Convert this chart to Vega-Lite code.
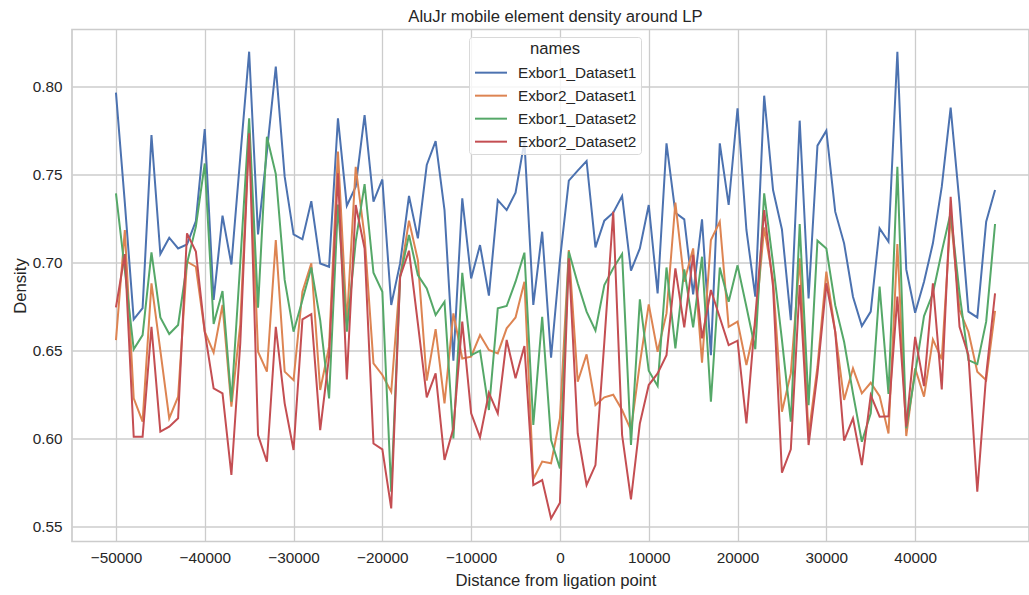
{
 "$schema": "https://vega.github.io/schema/vega-lite/v6.json",
 "width": 957,
 "height": 512,
 "autosize": {"type": "none"},
 "padding": {"left": 72, "top": 29.5, "right": 0, "bottom": 53.5},
 "background": "white",
 "config": {
  "font": "Liberation Sans",
  "view": {"stroke": "#cccccc", "strokeWidth": 1.7},
  "axis": {
   "domain": false, "ticks": false, "tickSize": 0,
   "grid": true, "gridColor": "#cccccc", "gridWidth": 1.3,
   "labelFont": "Liberation Sans", "labelFontSize": 15.3, "labelColor": "#262626",
   "titleFont": "Liberation Sans", "titleFontSize": 16.67, "titleFontWeight": "normal", "titleColor": "#262626"
  }
 },
 "title": {"text": "AluJr mobile element density around LP", "font": "Liberation Sans", "fontSize": 16.67, "fontWeight": "normal", "color": "#262626", "anchor": "middle", "dx": 5, "dy": 17, "offset": 7.5, "baseline": "alphabetic"},
 "data": {"values": [
  {"d": -50000, "Exbor1_Dataset1": 0.7966, "Exbor2_Dataset1": 0.656, "Exbor1_Dataset2": 0.7394, "Exbor2_Dataset2": 0.6746},
  {"d": -49000, "Exbor1_Dataset1": 0.734, "Exbor2_Dataset1": 0.7186, "Exbor1_Dataset2": 0.6958, "Exbor2_Dataset2": 0.7049},
  {"d": -48000, "Exbor1_Dataset1": 0.6678, "Exbor2_Dataset1": 0.6229, "Exbor1_Dataset2": 0.6508, "Exbor2_Dataset2": 0.6011},
  {"d": -47000, "Exbor1_Dataset1": 0.6742, "Exbor2_Dataset1": 0.6097, "Exbor1_Dataset2": 0.6589, "Exbor2_Dataset2": 0.6011},
  {"d": -46000, "Exbor1_Dataset1": 0.7725, "Exbor2_Dataset1": 0.6883, "Exbor1_Dataset2": 0.7059, "Exbor2_Dataset2": 0.6636},
  {"d": -45000, "Exbor1_Dataset1": 0.7049, "Exbor2_Dataset1": 0.65, "Exbor1_Dataset2": 0.6689, "Exbor2_Dataset2": 0.604},
  {"d": -44000, "Exbor1_Dataset1": 0.7142, "Exbor2_Dataset1": 0.6116, "Exbor1_Dataset2": 0.6595, "Exbor2_Dataset2": 0.6068},
  {"d": -43000, "Exbor1_Dataset1": 0.7081, "Exbor2_Dataset1": 0.6239, "Exbor1_Dataset2": 0.6646, "Exbor2_Dataset2": 0.6116},
  {"d": -42000, "Exbor1_Dataset1": 0.7104, "Exbor2_Dataset1": 0.7006, "Exbor1_Dataset2": 0.6996, "Exbor2_Dataset2": 0.7167},
  {"d": -41000, "Exbor1_Dataset1": 0.7237, "Exbor2_Dataset1": 0.6977, "Exbor1_Dataset2": 0.7205, "Exbor2_Dataset2": 0.7063},
  {"d": -40000, "Exbor1_Dataset1": 0.7759, "Exbor2_Dataset1": 0.6608, "Exbor1_Dataset2": 0.7564, "Exbor2_Dataset2": 0.6608},
  {"d": -39000, "Exbor1_Dataset1": 0.6788, "Exbor2_Dataset1": 0.6489, "Exbor1_Dataset2": 0.6652, "Exbor2_Dataset2": 0.6286},
  {"d": -38000, "Exbor1_Dataset1": 0.7267, "Exbor2_Dataset1": 0.676, "Exbor1_Dataset2": 0.6839, "Exbor2_Dataset2": 0.6258},
  {"d": -37000, "Exbor1_Dataset1": 0.699, "Exbor2_Dataset1": 0.6182, "Exbor1_Dataset2": 0.621, "Exbor2_Dataset2": 0.5794},
  {"d": -36000, "Exbor1_Dataset1": 0.76, "Exbor2_Dataset1": 0.665, "Exbor1_Dataset2": 0.70, "Exbor2_Dataset2": 0.6542},
  {"d": -35000, "Exbor1_Dataset1": 0.8199, "Exbor2_Dataset1": 0.7754, "Exbor1_Dataset2": 0.782, "Exbor2_Dataset2": 0.7735},
  {"d": -34000, "Exbor1_Dataset1": 0.7161, "Exbor2_Dataset1": 0.6494, "Exbor1_Dataset2": 0.6744, "Exbor2_Dataset2": 0.6021},
  {"d": -33000, "Exbor1_Dataset1": 0.763, "Exbor2_Dataset1": 0.6381, "Exbor1_Dataset2": 0.7716, "Exbor2_Dataset2": 0.5869},
  {"d": -32000, "Exbor1_Dataset1": 0.8114, "Exbor2_Dataset1": 0.7129, "Exbor1_Dataset2": 0.7504, "Exbor2_Dataset2": 0.6636},
  {"d": -31000, "Exbor1_Dataset1": 0.7489, "Exbor2_Dataset1": 0.6381, "Exbor1_Dataset2": 0.6902, "Exbor2_Dataset2": 0.6201},
  {"d": -30000, "Exbor1_Dataset1": 0.7161, "Exbor2_Dataset1": 0.6333, "Exbor1_Dataset2": 0.6608, "Exbor2_Dataset2": 0.5936},
  {"d": -29000, "Exbor1_Dataset1": 0.7133, "Exbor2_Dataset1": 0.6835, "Exbor1_Dataset2": 0.6788, "Exbor2_Dataset2": 0.6678},
  {"d": -28000, "Exbor1_Dataset1": 0.735, "Exbor2_Dataset1": 0.6996, "Exbor1_Dataset2": 0.6973, "Exbor2_Dataset2": 0.6708},
  {"d": -27000, "Exbor1_Dataset1": 0.6996, "Exbor2_Dataset1": 0.6277, "Exbor1_Dataset2": 0.6674, "Exbor2_Dataset2": 0.6049},
  {"d": -26000, "Exbor1_Dataset1": 0.6977, "Exbor2_Dataset1": 0.6523, "Exbor1_Dataset2": 0.6229, "Exbor2_Dataset2": 0.6466},
  {"d": -25000, "Exbor1_Dataset1": 0.782, "Exbor2_Dataset1": 0.7631, "Exbor1_Dataset2": 0.733, "Exbor2_Dataset2": 0.7508},
  {"d": -24000, "Exbor1_Dataset1": 0.7324, "Exbor2_Dataset1": 0.6655, "Exbor1_Dataset2": 0.6608, "Exbor2_Dataset2": 0.6337},
  {"d": -23000, "Exbor1_Dataset1": 0.7432, "Exbor2_Dataset1": 0.7545, "Exbor1_Dataset2": 0.712, "Exbor2_Dataset2": 0.7328},
  {"d": -22000, "Exbor1_Dataset1": 0.7839, "Exbor2_Dataset1": 0.7148, "Exbor1_Dataset2": 0.7447, "Exbor2_Dataset2": 0.7081},
  {"d": -21000, "Exbor1_Dataset1": 0.7347, "Exbor2_Dataset1": 0.6428, "Exbor1_Dataset2": 0.6943, "Exbor2_Dataset2": 0.5973},
  {"d": -20000, "Exbor1_Dataset1": 0.7473, "Exbor2_Dataset1": 0.6362, "Exbor1_Dataset2": 0.6835, "Exbor2_Dataset2": 0.5939},
  {"d": -19000, "Exbor1_Dataset1": 0.676, "Exbor2_Dataset1": 0.6267, "Exbor1_Dataset2": 0.5699, "Exbor2_Dataset2": 0.5604},
  {"d": -18000, "Exbor1_Dataset1": 0.6996, "Exbor2_Dataset1": 0.692, "Exbor1_Dataset2": 0.692, "Exbor2_Dataset2": 0.692},
  {"d": -17000, "Exbor1_Dataset1": 0.7379, "Exbor2_Dataset1": 0.7239, "Exbor1_Dataset2": 0.7157, "Exbor2_Dataset2": 0.7068},
  {"d": -16000, "Exbor1_Dataset1": 0.7138, "Exbor2_Dataset1": 0.7015, "Exbor1_Dataset2": 0.693, "Exbor2_Dataset2": 0.6655},
  {"d": -15000, "Exbor1_Dataset1": 0.7555, "Exbor2_Dataset1": 0.633, "Exbor1_Dataset2": 0.6854, "Exbor2_Dataset2": 0.6235},
  {"d": -14000, "Exbor1_Dataset1": 0.7691, "Exbor2_Dataset1": 0.6623, "Exbor1_Dataset2": 0.6703, "Exbor2_Dataset2": 0.6371},
  {"d": -13000, "Exbor1_Dataset1": 0.7299, "Exbor2_Dataset1": 0.6201, "Exbor1_Dataset2": 0.6778, "Exbor2_Dataset2": 0.5879},
  {"d": -12000, "Exbor1_Dataset1": 0.6443, "Exbor2_Dataset1": 0.6712, "Exbor1_Dataset2": 0.6002, "Exbor2_Dataset2": 0.6059},
  {"d": -11000, "Exbor1_Dataset1": 0.7366, "Exbor2_Dataset1": 0.6456, "Exbor1_Dataset2": 0.6943, "Exbor2_Dataset2": 0.6665},
  {"d": -10000, "Exbor1_Dataset1": 0.6911, "Exbor2_Dataset1": 0.6466, "Exbor1_Dataset2": 0.6475, "Exbor2_Dataset2": 0.6144},
  {"d": -9000, "Exbor1_Dataset1": 0.71, "Exbor2_Dataset1": 0.6589, "Exbor1_Dataset2": 0.65, "Exbor2_Dataset2": 0.6008},
  {"d": -8000, "Exbor1_Dataset1": 0.6813, "Exbor2_Dataset1": 0.6504, "Exbor1_Dataset2": 0.6163, "Exbor2_Dataset2": 0.6261},
  {"d": -7000, "Exbor1_Dataset1": 0.7356, "Exbor2_Dataset1": 0.6485, "Exbor1_Dataset2": 0.6741, "Exbor2_Dataset2": 0.6144},
  {"d": -6000, "Exbor1_Dataset1": 0.7299, "Exbor2_Dataset1": 0.6627, "Exbor1_Dataset2": 0.6754, "Exbor2_Dataset2": 0.6561},
  {"d": -5000, "Exbor1_Dataset1": 0.7398, "Exbor2_Dataset1": 0.6689, "Exbor1_Dataset2": 0.6892, "Exbor2_Dataset2": 0.6343},
  {"d": -4000, "Exbor1_Dataset1": 0.7688, "Exbor2_Dataset1": 0.6892, "Exbor1_Dataset2": 0.7057, "Exbor2_Dataset2": 0.6527},
  {"d": -3000, "Exbor1_Dataset1": 0.676, "Exbor2_Dataset1": 0.577, "Exbor1_Dataset2": 0.6078, "Exbor2_Dataset2": 0.5737},
  {"d": -2000, "Exbor1_Dataset1": 0.7176, "Exbor2_Dataset1": 0.587, "Exbor1_Dataset2": 0.6693, "Exbor2_Dataset2": 0.5765},
  {"d": -1000, "Exbor1_Dataset1": 0.646, "Exbor2_Dataset1": 0.586, "Exbor1_Dataset2": 0.5992, "Exbor2_Dataset2": 0.5547},
  {"d": 0, "Exbor1_Dataset1": 0.7015, "Exbor2_Dataset1": 0.6116, "Exbor1_Dataset2": 0.5831, "Exbor2_Dataset2": 0.5636},
  {"d": 1000, "Exbor1_Dataset1": 0.7466, "Exbor2_Dataset1": 0.7072, "Exbor1_Dataset2": 0.7063, "Exbor2_Dataset2": 0.7025},
  {"d": 2000, "Exbor1_Dataset1": 0.7523, "Exbor2_Dataset1": 0.6324, "Exbor1_Dataset2": 0.6883, "Exbor2_Dataset2": 0.603},
  {"d": 3000, "Exbor1_Dataset1": 0.7578, "Exbor2_Dataset1": 0.6479, "Exbor1_Dataset2": 0.6722, "Exbor2_Dataset2": 0.5737},
  {"d": 4000, "Exbor1_Dataset1": 0.7087, "Exbor2_Dataset1": 0.6191, "Exbor1_Dataset2": 0.6614, "Exbor2_Dataset2": 0.585},
  {"d": 5000, "Exbor1_Dataset1": 0.7239, "Exbor2_Dataset1": 0.6235, "Exbor1_Dataset2": 0.6873, "Exbor2_Dataset2": 0.655},
  {"d": 6000, "Exbor1_Dataset1": 0.7284, "Exbor2_Dataset1": 0.625, "Exbor1_Dataset2": 0.6968, "Exbor2_Dataset2": 0.729},
  {"d": 7000, "Exbor1_Dataset1": 0.7379, "Exbor2_Dataset1": 0.6163, "Exbor1_Dataset2": 0.7049, "Exbor2_Dataset2": 0.6021},
  {"d": 8000, "Exbor1_Dataset1": 0.6955, "Exbor2_Dataset1": 0.6049, "Exbor1_Dataset2": 0.5964, "Exbor2_Dataset2": 0.5655},
  {"d": 9000, "Exbor1_Dataset1": 0.7081, "Exbor2_Dataset1": 0.6428, "Exbor1_Dataset2": 0.6792, "Exbor2_Dataset2": 0.6087},
  {"d": 10000, "Exbor1_Dataset1": 0.7328, "Exbor2_Dataset1": 0.6763, "Exbor1_Dataset2": 0.6386, "Exbor2_Dataset2": 0.6305},
  {"d": 11000, "Exbor1_Dataset1": 0.6826, "Exbor2_Dataset1": 0.6494, "Exbor1_Dataset2": 0.630, "Exbor2_Dataset2": 0.6371},
  {"d": 12000, "Exbor1_Dataset1": 0.7678, "Exbor2_Dataset1": 0.6712, "Exbor1_Dataset2": 0.6973, "Exbor2_Dataset2": 0.6475},
  {"d": 13000, "Exbor1_Dataset1": 0.7284, "Exbor2_Dataset1": 0.7341, "Exbor1_Dataset2": 0.6513, "Exbor2_Dataset2": 0.6968},
  {"d": 14000, "Exbor1_Dataset1": 0.7246, "Exbor2_Dataset1": 0.6892, "Exbor1_Dataset2": 0.6962, "Exbor2_Dataset2": 0.6633},
  {"d": 15000, "Exbor1_Dataset1": 0.682, "Exbor2_Dataset1": 0.7081, "Exbor1_Dataset2": 0.6633, "Exbor2_Dataset2": 0.7044},
  {"d": 16000, "Exbor1_Dataset1": 0.7246, "Exbor2_Dataset1": 0.6432, "Exbor1_Dataset2": 0.7034, "Exbor2_Dataset2": 0.657},
  {"d": 17000, "Exbor1_Dataset1": 0.6475, "Exbor2_Dataset1": 0.7129, "Exbor1_Dataset2": 0.621, "Exbor2_Dataset2": 0.6845},
  {"d": 18000, "Exbor1_Dataset1": 0.7678, "Exbor2_Dataset1": 0.7233, "Exbor1_Dataset2": 0.6973, "Exbor2_Dataset2": 0.6689},
  {"d": 19000, "Exbor1_Dataset1": 0.7328, "Exbor2_Dataset1": 0.6636, "Exbor1_Dataset2": 0.6778, "Exbor2_Dataset2": 0.6532},
  {"d": 20000, "Exbor1_Dataset1": 0.7877, "Exbor2_Dataset1": 0.6665, "Exbor1_Dataset2": 0.6985, "Exbor2_Dataset2": 0.6557},
  {"d": 21000, "Exbor1_Dataset1": 0.7186, "Exbor2_Dataset1": 0.6419, "Exbor1_Dataset2": 0.675, "Exbor2_Dataset2": 0.6087},
  {"d": 22000, "Exbor1_Dataset1": 0.6807, "Exbor2_Dataset1": 0.665, "Exbor1_Dataset2": 0.6508, "Exbor2_Dataset2": 0.6693},
  {"d": 23000, "Exbor1_Dataset1": 0.7949, "Exbor2_Dataset1": 0.72, "Exbor1_Dataset2": 0.7394, "Exbor2_Dataset2": 0.7299},
  {"d": 24000, "Exbor1_Dataset1": 0.7413, "Exbor2_Dataset1": 0.69, "Exbor1_Dataset2": 0.6996, "Exbor2_Dataset2": 0.6864},
  {"d": 25000, "Exbor1_Dataset1": 0.7189, "Exbor2_Dataset1": 0.6153, "Exbor1_Dataset2": 0.6561, "Exbor2_Dataset2": 0.5807},
  {"d": 26000, "Exbor1_Dataset1": 0.6674, "Exbor2_Dataset1": 0.6371, "Exbor1_Dataset2": 0.6097, "Exbor2_Dataset2": 0.594},
  {"d": 27000, "Exbor1_Dataset1": 0.7807, "Exbor2_Dataset1": 0.7025, "Exbor1_Dataset2": 0.722, "Exbor2_Dataset2": 0.6873},
  {"d": 28000, "Exbor1_Dataset1": 0.6797, "Exbor2_Dataset1": 0.6021, "Exbor1_Dataset2": 0.6191, "Exbor2_Dataset2": 0.5964},
  {"d": 29000, "Exbor1_Dataset1": 0.7665, "Exbor2_Dataset1": 0.6409, "Exbor1_Dataset2": 0.7125, "Exbor2_Dataset2": 0.6371},
  {"d": 30000, "Exbor1_Dataset1": 0.775, "Exbor2_Dataset1": 0.6949, "Exbor1_Dataset2": 0.7081, "Exbor2_Dataset2": 0.6883},
  {"d": 31000, "Exbor1_Dataset1": 0.729, "Exbor2_Dataset1": 0.6608, "Exbor1_Dataset2": 0.6759, "Exbor2_Dataset2": 0.6608},
  {"d": 32000, "Exbor1_Dataset1": 0.711, "Exbor2_Dataset1": 0.622, "Exbor1_Dataset2": 0.6551, "Exbor2_Dataset2": 0.5989},
  {"d": 33000, "Exbor1_Dataset1": 0.6807, "Exbor2_Dataset1": 0.64, "Exbor1_Dataset2": 0.6258, "Exbor2_Dataset2": 0.6116},
  {"d": 34000, "Exbor1_Dataset1": 0.664, "Exbor2_Dataset1": 0.6258, "Exbor1_Dataset2": 0.5983, "Exbor2_Dataset2": 0.585},
  {"d": 35000, "Exbor1_Dataset1": 0.6722, "Exbor2_Dataset1": 0.6318, "Exbor1_Dataset2": 0.6144, "Exbor2_Dataset2": 0.6248},
  {"d": 36000, "Exbor1_Dataset1": 0.7195, "Exbor2_Dataset1": 0.6242, "Exbor1_Dataset2": 0.6864, "Exbor2_Dataset2": 0.6125},
  {"d": 37000, "Exbor1_Dataset1": 0.7119, "Exbor2_Dataset1": 0.603, "Exbor1_Dataset2": 0.6254, "Exbor2_Dataset2": 0.6127},
  {"d": 38000, "Exbor1_Dataset1": 0.8199, "Exbor2_Dataset1": 0.7106, "Exbor1_Dataset2": 0.7545, "Exbor2_Dataset2": 0.6807},
  {"d": 39000, "Exbor1_Dataset1": 0.6962, "Exbor2_Dataset1": 0.6015, "Exbor1_Dataset2": 0.6059, "Exbor2_Dataset2": 0.6068},
  {"d": 40000, "Exbor1_Dataset1": 0.6716, "Exbor2_Dataset1": 0.64, "Exbor1_Dataset2": 0.6371, "Exbor2_Dataset2": 0.6579},
  {"d": 41000, "Exbor1_Dataset1": 0.6892, "Exbor2_Dataset1": 0.6239, "Exbor1_Dataset2": 0.6697, "Exbor2_Dataset2": 0.6299},
  {"d": 42000, "Exbor1_Dataset1": 0.711, "Exbor2_Dataset1": 0.6564, "Exbor1_Dataset2": 0.6826, "Exbor2_Dataset2": 0.6883},
  {"d": 43000, "Exbor1_Dataset1": 0.7432, "Exbor2_Dataset1": 0.6451, "Exbor1_Dataset2": 0.7063, "Exbor2_Dataset2": 0.628},
  {"d": 44000, "Exbor1_Dataset1": 0.7881, "Exbor2_Dataset1": 0.7271, "Exbor1_Dataset2": 0.7284, "Exbor2_Dataset2": 0.7375},
  {"d": 45000, "Exbor1_Dataset1": 0.7337, "Exbor2_Dataset1": 0.6731, "Exbor1_Dataset2": 0.6826, "Exbor2_Dataset2": 0.6636},
  {"d": 46000, "Exbor1_Dataset1": 0.6722, "Exbor2_Dataset1": 0.6608, "Exbor1_Dataset2": 0.6447, "Exbor2_Dataset2": 0.6475},
  {"d": 47000, "Exbor1_Dataset1": 0.6689, "Exbor2_Dataset1": 0.6381, "Exbor1_Dataset2": 0.6424, "Exbor2_Dataset2": 0.5699},
  {"d": 48000, "Exbor1_Dataset1": 0.7233, "Exbor2_Dataset1": 0.6333, "Exbor1_Dataset2": 0.6665, "Exbor2_Dataset2": 0.6362},
  {"d": 49000, "Exbor1_Dataset1": 0.7413, "Exbor2_Dataset1": 0.6727, "Exbor1_Dataset2": 0.722, "Exbor2_Dataset2": 0.6826}
 ]},
 "transform": [{"fold": ["Exbor1_Dataset1", "Exbor2_Dataset1", "Exbor1_Dataset2", "Exbor2_Dataset2"], "as": ["names", "Density"]}],
 "mark": {"type": "line", "strokeWidth": 2, "clip": true},
 "encoding": {
  "x": {"field": "d", "type": "quantitative",
   "scale": {"domain": [-54950, 52823], "nice": false, "zero": false},
   "axis": {"values": [-50000, -40000, -30000, -20000, -10000, 0, 10000, 20000, 30000, 40000], "format": "d",
    "title": "Distance from ligation point", "labelPadding": 9, "titleX": 483.5, "titleY": 44.3, "titleBaseline": "alphabetic", "titleAlign": "center"}},
  "y": {"field": "Density", "type": "quantitative",
   "scale": {"domain": [0.5416, 0.8325], "nice": false, "zero": false},
   "axis": {"values": [0.55, 0.6, 0.65, 0.7, 0.75, 0.8], "format": ".2f", "title": "Density", "labelPadding": 10,
    "titleX": -47, "titleY": 256, "titleAngle": -90, "titleBaseline": "alphabetic", "titleAlign": "center"}},
  "color": {"field": "names", "type": "nominal",
   "scale": {"domain": ["Exbor1_Dataset1", "Exbor2_Dataset1", "Exbor1_Dataset2", "Exbor2_Dataset2"], "range": ["#4c72b0", "#dd8452", "#55a868", "#c44e52"]},
   "legend": {"orient": "none", "legendX": 397, "legendY": 7.5, "title": "names",
    "titleFontSize": 16.67, "titleFontWeight": "normal", "titleColor": "#262626", "titleAnchor": "middle", "titlePadding": 4,
    "labelFontSize": 15.3, "labelColor": "#262626", "labelFont": "Liberation Sans", "titleFont": "Liberation Sans",
    "symbolType": "M-1.6,0H1.6", "symbolSize": 400, "symbolStrokeWidth": 2, "symbolOffset": 7, "labelOffset": 16,
    "padding": 4, "rowPadding": 3, "fillColor": "rgba(255,255,255,0.8)", "strokeColor": "#d9d9d9", "cornerRadius": 3}}
 }
}
